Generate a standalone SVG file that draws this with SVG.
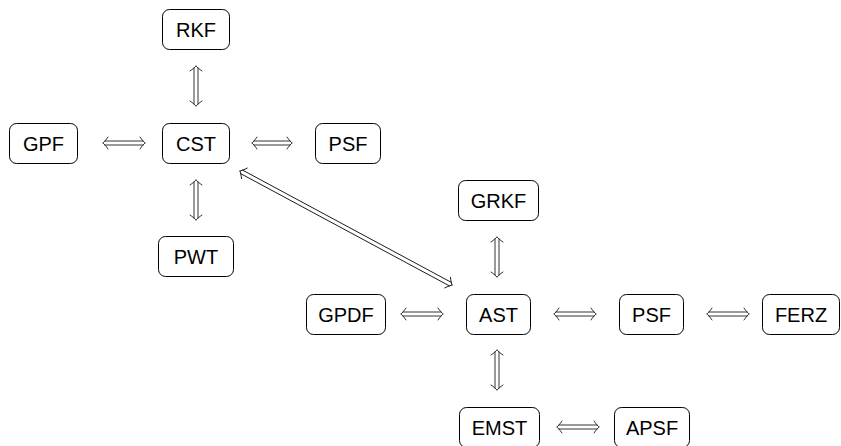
<svg xmlns="http://www.w3.org/2000/svg" xmlns:xlink="http://www.w3.org/1999/xlink" width="841" height="446" viewBox="0 0 841 446">
<style>
.box{fill:#fff;stroke:#000;stroke-width:1}
.lbl{font-family:"Liberation Sans","DejaVu Sans",sans-serif;font-size:20px;fill:#000;text-anchor:middle;dominant-baseline:central}
.arr{fill:none;stroke:#000;stroke-width:0.8;stroke-linecap:round}
</style>
<defs>
<path id="a42" class="arr" d="M0,0 C1,1 3,3 5,6 M0,0 C1,-1 3,-3 5,-6 M2,-2 H40 M2,2 H40 M42,0 C41,1 39,3 37,6 M42,0 C41,-1 39,-3 37,-6"/>
<path id="a40" class="arr" d="M0,0 C1,1 3,3 5,6 M0,0 C1,-1 3,-3 5,-6 M2,-2 H38 M2,2 H38 M40,0 C39,1 37,3 35,6 M40,0 C39,-1 37,-3 35,-6"/>
</defs>
<rect width="841" height="446" fill="#fff"/>
<g id="connectors">
<use xlink:href="#a42" transform="translate(103,143)"/>
<use xlink:href="#a40" transform="translate(252,143)"/>
<use xlink:href="#a42" transform="translate(401,314)"/>
<use xlink:href="#a42" transform="translate(554,314)"/>
<use xlink:href="#a42" transform="translate(707,314)"/>
<use xlink:href="#a42" transform="translate(557,427)"/>
<use xlink:href="#a40" transform="translate(196,66) rotate(90)"/>
<use xlink:href="#a40" transform="translate(196,180) rotate(90)"/>
<use xlink:href="#a40" transform="translate(497,237) rotate(90)"/>
<use xlink:href="#a40" transform="translate(497,350) rotate(90)"/>
<path class="arr" transform="translate(240,171) rotate(28.27)" d="M0,0 C1,1 3,3 5,6 M0,0 C1,-1 3,-3 5,-6 M2,-2 H238.7 M2,2 H238.7 M240.7,0 C239.7,1 237.7,3 235.7,6 M240.7,0 C239.7,-1 237.7,-3 235.7,-6"/>
</g>
<g id="RKF"><rect class="box" x="162.5" y="9.5" width="67" height="40" rx="7"/><text class="lbl" x="196" y="30">RKF</text></g>
<g id="GPF"><rect class="box" x="9.5" y="123.5" width="68" height="40" rx="7"/><text class="lbl" x="43.5" y="144">GPF</text></g>
<g id="CST"><rect class="box" x="162.5" y="123.5" width="67" height="40" rx="7"/><text class="lbl" x="196" y="144">CST</text></g>
<g id="PSF1"><rect class="box" x="315.5" y="123.5" width="65" height="40" rx="7"/><text class="lbl" x="348" y="144">PSF</text></g>
<g id="PWT"><rect class="box" x="158.5" y="236.5" width="75" height="40" rx="7"/><text class="lbl" x="196" y="257">PWT</text></g>
<g id="GRKF"><rect class="box" x="458.5" y="180.5" width="80" height="40" rx="7"/><text class="lbl" x="498.5" y="201">GRKF</text></g>
<g id="GPDF"><rect class="box" x="306.5" y="294.5" width="79" height="40" rx="7"/><text class="lbl" x="346" y="315">GPDF</text></g>
<g id="AST"><rect class="box" x="466.5" y="294.5" width="64" height="40" rx="7"/><text class="lbl" x="498.5" y="315">AST</text></g>
<g id="PSF2"><rect class="box" x="619.5" y="294.5" width="64" height="40" rx="7"/><text class="lbl" x="651.5" y="315">PSF</text></g>
<g id="FERZ"><rect class="box" x="762.5" y="294.5" width="77" height="40" rx="7"/><text class="lbl" x="801" y="315">FERZ</text></g>
<g id="EMST"><rect class="box" x="459.5" y="407.5" width="80" height="40" rx="7"/><text class="lbl" x="499.5" y="428">EMST</text></g>
<g id="APSF"><rect class="box" x="614.5" y="407.5" width="75" height="40" rx="7"/><text class="lbl" x="652" y="428">APSF</text></g>
</svg>
